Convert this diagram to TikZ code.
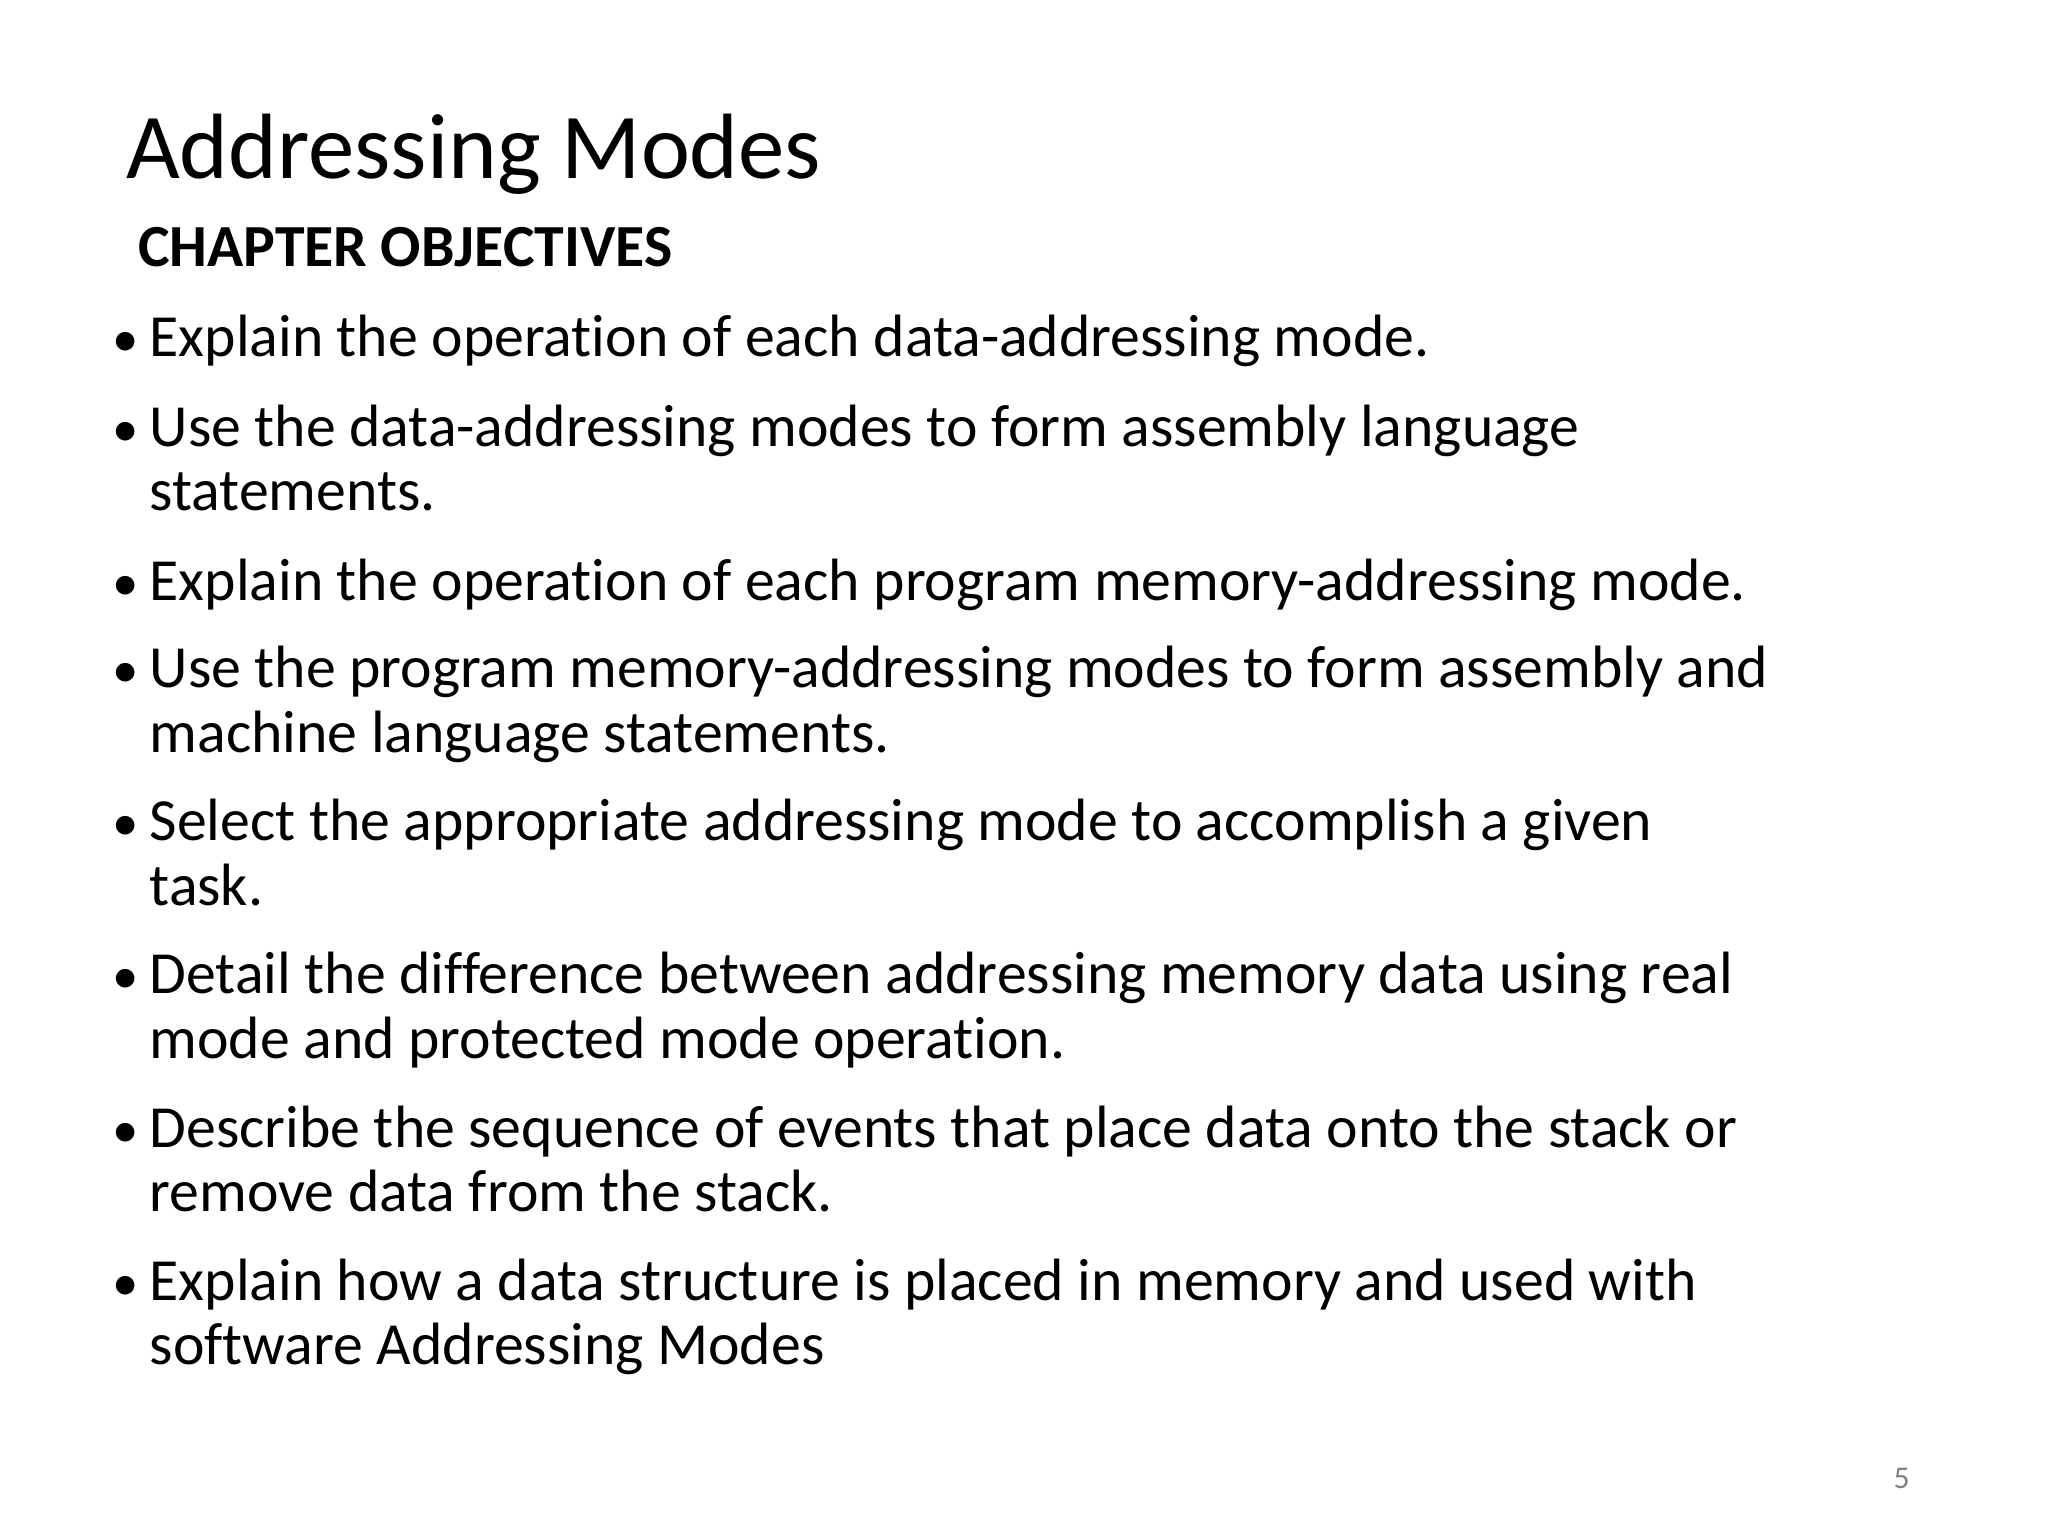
\documentclass[tikz,border=0pt]{standalone}
\usepackage{fontspec}
\setmainfont[Ligatures={NoCommon}]{Carlito}
\begin{document}
\begin{tikzpicture}[x=1cm,y=1cm,
  ln/.style={anchor=base west,inner sep=0pt,font=\fontsize{17pt}{20pt}\selectfont},
  bul/.style={anchor=base west,inner sep=0pt,font=\fontsize{15pt}{20pt}\selectfont}]
\useasboundingbox (0,0) rectangle (20.48,15.36);
\node[anchor=base west,inner sep=0pt,font=\fontsize{26.4pt}{30pt}\selectfont] (title) at (1.254,13.578) {Addressing Modes};
\node[anchor=base west,inner sep=0pt,font=\fontsize{17pt}{20pt}\selectfont\bfseries] (co) at (1.373,12.694) {CHAPTER OBJECTIVES};
\foreach \y/\n in {11.796/b1,10.898/b2,9.354/b3,8.483/b4,6.952/b5,5.420/b6,3.889/b7,2.358/b8}
  \node[bul] (\n) at (1.122,\y) {•};
\node[ln] (t1) at (1.49,11.796) {Explain the operation of each data-addressing mode.};
\node[ln] (t2) at (1.49,10.898) {Use the data-addressing modes to form assembly language};
\node[ln] (t2b) at (1.49,10.252) {statements.};
\node[ln] (t3) at (1.49,9.354) {Explain the operation of each program memory-addressing mode.};
\node[ln] (t4) at (1.49,8.483) {Use the program memory-addressing modes to form assembly and};
\node[ln] (t4b) at (1.49,7.836) {machine language statements.};
\node[ln] (t5) at (1.49,6.952) {Select the appropriate addressing mode to accomplish a given};
\node[ln] (t5b) at (1.49,6.305) {task.};
\node[ln] (t6) at (1.49,5.420) {Detail the difference between addressing memory data using real};
\node[ln] (t6b) at (1.49,4.774) {mode and protected mode operation.};
\node[ln] (t7) at (1.49,3.889) {Describe the sequence of events that place data onto the stack or};
\node[ln] (t7b) at (1.49,3.242) {remove data from the stack.};
\node[ln] (t8) at (1.49,2.358) {Explain how a data structure is placed in memory and used with};
\node[ln] (t8b) at (1.49,1.711) {software Addressing Modes};
\node[anchor=base west,inner sep=0pt,font=\fontsize{9pt}{10pt}\selectfont,text=gray] (pg) at (18.93,0.47) {5};
\end{tikzpicture}
\end{document}
